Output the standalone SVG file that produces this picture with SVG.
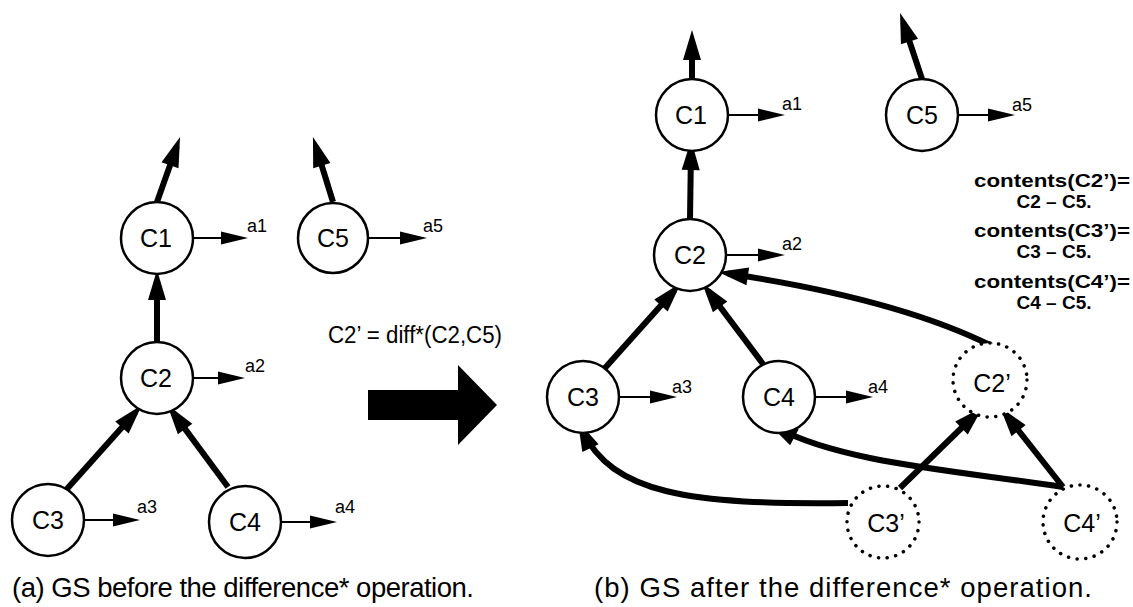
<svg xmlns="http://www.w3.org/2000/svg" width="1133" height="607" viewBox="0 0 1133 607">
<style>
  .node { fill: #fff; stroke: #000; stroke-width: 2.5; }
  .dotted { fill: #fff; stroke: #000; stroke-width: 3.5; stroke-dasharray: 0.1 8.6; stroke-linecap: round; }
  .lbl { font-family: "Liberation Sans", Arial, sans-serif; font-size: 25px; text-anchor: middle; fill: #000; }
  .alb { font-family: "Liberation Sans", Arial, sans-serif; font-size: 18px; fill: #000; }
  .thick { fill: none; stroke: #000; stroke-width: 6; marker-end: url(#hbig); }
  .thin { fill: none; stroke: #000; stroke-width: 2; marker-end: url(#hsmall); }
  .cap { font-family: "Liberation Sans", Arial, sans-serif; font-size: 27.5px; fill: #000; }
  .note { font-family: "Liberation Sans", Arial, sans-serif; font-size: 19px; font-weight: bold; text-anchor: middle; fill: #000; }
  .op { font-family: "Liberation Sans", Arial, sans-serif; font-size: 23px; fill: #000; }
</style>
<defs>
  <marker id="hbig" markerUnits="userSpaceOnUse" markerWidth="30" markerHeight="18" refX="20" refY="9" orient="auto" overflow="visible">
    <path d="M0,0 L30,9 L0,18 z" fill="#000"/>
  </marker>
  <marker id="hsmall" markerUnits="userSpaceOnUse" markerWidth="27" markerHeight="13" refX="22" refY="6.5" orient="auto" overflow="visible">
    <path d="M0,0 L27,6.5 L0,13 z" fill="#000"/>
  </marker>
</defs>
<rect width="1133" height="607" fill="#fff"/>

<g id="connectors">
  <!-- left -->
  <path class="thick" d="M157,202 L176.7,146.4"/>
  <path class="thick" d="M333,202 L315.9,146.6"/>
  <path class="thick" d="M157,342 L157,280"/>
  <path class="thick" d="M66,490 L135.3,412.5"/>
  <path class="thick" d="M228,487 L173.2,412.9"/>
  <path class="thin" d="M193,238 L243,238"/>
  <path class="thin" d="M369,238 L422,238"/>
  <path class="thin" d="M193,378 L240,378"/>
  <path class="thin" d="M84,520 L135,520"/>
  <path class="thin" d="M281,522 L332,522"/>
  <!-- right -->
  <path class="thick" d="M692,79 L692,40"/>
  <path class="thick" d="M922,79 L903.2,22.5"/>
  <path class="thick" d="M690,219 L691,150"/>
  <path class="thick" d="M605,368 L674.3,290.5"/>
  <path class="thick" d="M763,364 L708.1,290.9"/>
  <path class="thick" d="M992,346 Q898,299 728,273.5"/>
  <path class="thick" d="M900,488 L975.8,414"/>
  <path class="thick" d="M1063,487 L1006.2,414.9"/>
  <path class="thick" d="M1063,487 C950,470 840,462 776.8,427.7"/>
  <path class="thick" d="M848,503 C690,505 612,494 582,430"/>
  <path class="thin" d="M728,115 L780,115"/>
  <path class="thin" d="M958,115 L1010,115"/>
  <path class="thin" d="M726,255 L780,255"/>
  <path class="thin" d="M619,397 L672,397"/>
  <path class="thin" d="M815,397 L868,397"/>
</g>

<g id="left-C1"><circle class="node" cx="157" cy="238" r="36"/><text class="lbl" x="156" y="247">C1</text></g>
<g id="left-C5"><circle class="node" cx="333" cy="238" r="35"/><text class="lbl" x="333" y="247">C5</text></g>
<g id="left-C2"><circle class="node" cx="157" cy="378" r="36"/><text class="lbl" x="156" y="387">C2</text></g>
<g id="left-C3"><circle class="node" cx="48" cy="520" r="36"/><text class="lbl" x="48" y="529">C3</text></g>
<g id="left-C4"><circle class="node" cx="245" cy="522" r="36"/><text class="lbl" x="245" y="531">C4</text></g>

<g id="right-C1"><circle class="node" cx="692" cy="115" r="36"/><text class="lbl" x="691" y="124">C1</text></g>
<g id="right-C5"><circle class="node" cx="922" cy="115" r="36"/><text class="lbl" x="922" y="124">C5</text></g>
<g id="right-C2"><circle class="node" cx="690" cy="255" r="36"/><text class="lbl" x="690" y="264">C2</text></g>
<g id="right-C3"><circle class="node" cx="583" cy="397" r="36"/><text class="lbl" x="583" y="406">C3</text></g>
<g id="right-C4"><circle class="node" cx="779" cy="397" r="36"/><text class="lbl" x="779" y="406">C4</text></g>
<g id="right-C2p"><circle class="dotted" cx="990" cy="380" r="37"/><text class="lbl" x="992" y="392">C2’</text></g>
<g id="right-C3p"><circle class="dotted" cx="883" cy="522" r="36"/><text class="lbl" x="886" y="532">C3’</text></g>
<g id="right-C4p"><circle class="dotted" cx="1080" cy="522" r="37"/><text class="lbl" x="1082" y="532">C4’</text></g>

<g id="attr-labels">
  <text class="alb" x="247" y="232">a1</text>
  <text class="alb" x="423" y="232">a5</text>
  <text class="alb" x="245" y="372">a2</text>
  <text class="alb" x="137" y="513">a3</text>
  <text class="alb" x="335" y="513">a4</text>
  <text class="alb" x="782" y="110">a1</text>
  <text class="alb" x="1012" y="111">a5</text>
  <text class="alb" x="782" y="250">a2</text>
  <text class="alb" x="672" y="393">a3</text>
  <text class="alb" x="868" y="393">a4</text>
</g>

<g id="operation">
  <text class="op" x="328" y="343" textLength="174" lengthAdjust="spacingAndGlyphs">C2’ = diff*(C2,C5)</text>
  <polygon points="368,390 458,390 458,365 497,405 458,445 458,420 368,420" fill="#000"/>
</g>

<g id="contents-notes">
  <text class="note" x="1052" y="187" textLength="156" lengthAdjust="spacingAndGlyphs">contents(C2’)=</text>
  <text class="note" x="1054" y="208">C2 – C5.</text>
  <text class="note" x="1052" y="237" textLength="156" lengthAdjust="spacingAndGlyphs">contents(C3’)=</text>
  <text class="note" x="1054" y="258">C3 – C5.</text>
  <text class="note" x="1052" y="288" textLength="156" lengthAdjust="spacingAndGlyphs">contents(C4’)=</text>
  <text class="note" x="1054" y="309">C4 – C5.</text>
</g>

<g id="captions">
  <text class="cap" x="12" y="597" textLength="462" lengthAdjust="spacing">(a) GS before the difference* operation.</text>
  <text class="cap" x="594" y="597" textLength="498" lengthAdjust="spacing">(b) GS after the difference* operation.</text>
</g>
</svg>
